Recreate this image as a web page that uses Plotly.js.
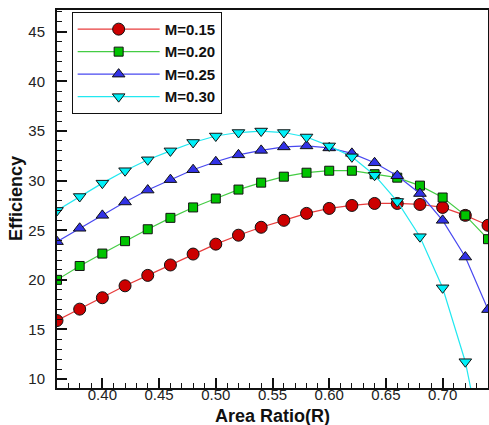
<!DOCTYPE html>
<html>
<head>
<meta charset="utf-8">
<script src="https://cdn.plot.ly/plotly-3.0.1.min.js"></script>
<style>html,body{margin:0;padding:0;background:#fff;}#chart{width:489px;height:425px;}</style>
</head>
<body>
<div id="chart"></div>
<script>
const areaRatio = [0.36,0.38,0.40,0.42,0.44,0.46,0.48,0.50,0.52,0.54,0.56,0.58,0.60,0.62,0.64,0.66,0.68,0.70,0.72,0.74];
const effM015 = [15.9,17.05,18.2,19.4,20.45,21.5,22.6,23.6,24.5,25.3,26.0,26.7,27.2,27.5,27.7,27.7,27.6,27.3,26.5,25.5];
const effM020 = [20.0,21.4,22.65,23.9,25.1,26.25,27.3,28.2,29.1,29.8,30.4,30.8,31.0,31.0,30.65,30.3,29.5,28.3,26.5,24.1];
const effM025 = [23.85,25.2,26.5,27.85,29.05,30.1,31.1,31.9,32.6,33.05,33.4,33.5,33.3,32.75,31.8,30.5,28.7,26.0,22.3,17.0];
const effM030 = [27.0,28.4,29.75,31.0,32.1,33.0,33.85,34.5,34.85,35.0,34.85,34.4,33.5,32.4,30.55,27.9,24.35,19.2,11.75,0.5];
const seriesNames = ['M=0.15','M=0.20','M=0.25','M=0.30'];

const styles = [
  {line:'#e83c3c', fill:'#cc0000', symbol:'circle', size:12},
  {line:'#44cc44', fill:'#00c400', symbol:'square', size:9},
  {line:'#4848f0', fill:'#3232e6', symbol:'triangle-up', size:11},
  {line:'#22e8f0', fill:'#00f0f8', symbol:'triangle-down', size:11}
];
const ys = [effM015, effM020, effM025, effM030];
const traces = ys.map((y,i)=>({
  x: areaRatio, y: y, name: seriesNames[i], type:'scatter', mode:'lines+markers',
  line:{color:styles[i].line, width:1.2},
  marker:{symbol:styles[i].symbol, size:styles[i].size, color:styles[i].fill, line:{color:'#111', width:1}}
}));

const layout = {
  width:489, height:425,
  margin:{l:57, r:1, t:10, b:37},
  paper_bgcolor:'#fff', plot_bgcolor:'#fff',
  font:{family:'Arial, Liberation Sans, sans-serif', color:'#111'},
  showlegend:true,
  legend:{x:0.034, y:0.995, xanchor:'left', yanchor:'top', bgcolor:'#fff', bordercolor:'#111', borderwidth:1,
    font:{size:15, family:'Arial, Liberation Sans, sans-serif', weight:'bold', color:'#111'},
    itemwidth:82, tracegroupgap:0},
  xaxis:{range:[0.36,0.74], dtick:0.05, tick0:0.40, tickformat:'.2f', ticks:'inside', ticklen:10, tickwidth:2, tickcolor:'#111',
    showline:true, linewidth:2, linecolor:'#111', mirror:true, showgrid:false, zeroline:false,
    minor:{dtick:0.01, ticklen:5, tickwidth:1, tickcolor:'#111', ticks:'inside'},
    tickfont:{size:15, color:'#222'}, ticklabelstandoff:-8},
  yaxis:{range:[9.1,47.2], dtick:5, tick0:10, ticks:'inside', ticklen:10, tickwidth:2, tickcolor:'#111',
    showline:true, linewidth:2, linecolor:'#111', mirror:true, showgrid:false, zeroline:false,
    minor:{dtick:1, ticklen:5, tickwidth:1, tickcolor:'#111', ticks:'inside'},
    tickfont:{size:15, color:'#222'}, ticklabelstandoff:7},
  annotations:[
    {text:'Area Ratio(R)', xref:'paper', yref:'paper', x:0.5, y:(388-416)/378, xanchor:'center', yanchor:'middle',
     showarrow:false, font:{size:18, weight:'bold', color:'#111'}},
    {text:'Efficiency', xref:'paper', yref:'paper', x:(16-57)/431, y:0.5, xanchor:'center', yanchor:'middle',
     textangle:-90, showarrow:false, font:{size:18, weight:'bold', color:'#111'}}
  ]
};
Plotly.newPlot('chart', traces, layout, {displayModeBar:false, staticPlot:true});
</script>
</body>
</html>
